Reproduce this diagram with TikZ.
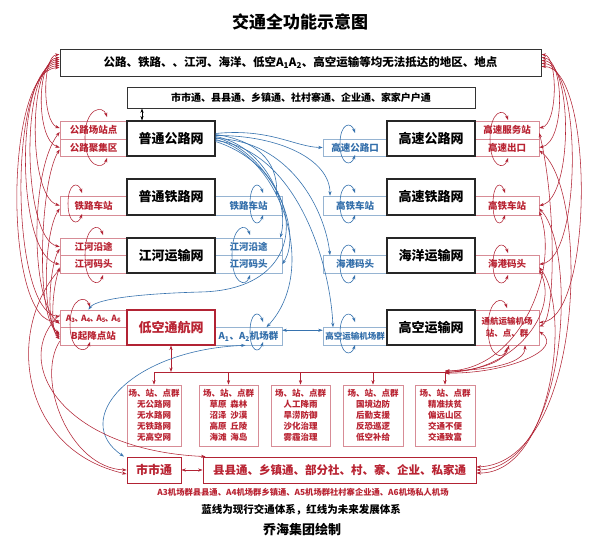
\documentclass[tikz,border=0pt]{standalone}
\usepackage{fontspec}
\setmainfont{Noto Sans CJK SC}
\usetikzlibrary{arrows.meta}
\definecolor{rline}{RGB}{178,35,52}
\definecolor{bline}{RGB}{55,115,175}
\definecolor{rtext}{RGB}{185,35,50}
\definecolor{btext}{RGB}{50,110,170}
\definecolor{rborder}{RGB}{215,140,150}
\definecolor{bborder}{RGB}{150,180,210}
\newcommand{\fsz}[1]{\fontsize{#1}{#1}\selectfont}
\newcommand{\myloop}[5]{\draw[#1,<->] (#3,{#4+10}) .. controls ({#3-4},{#4-2}) and (#2,#4) .. (#2,{(#4+#5)/2}) .. controls (#2,#5) and ({#3-4},{#5+2}) .. (#3,{#5-10});}
\tikzset{
  mainbox/.style={draw=black!85, line width=1.1pt, fill=white, inner sep=0pt, minimum width=88pt, minimum height=35pt, font=\bfseries\fsz{13}},
  rsub/.style={draw=rborder, line width=0.6pt, inner sep=0pt, text=rtext, font=\bfseries\fsz{9.5}},
  bsub/.style={draw=bborder, line width=0.6pt, inner sep=0pt, text=btext, font=\bfseries\fsz{9.5}},
  botbox/.style={draw=rborder, line width=0.7pt, inner sep=0pt, text=rtext, align=center, minimum height=61pt, font=\bfseries\fontsize{8.5}{11}\selectfont},
  rl/.style={draw=rline, line width=0.55pt},
  bl/.style={draw=bline, line width=0.6pt}
}
\begin{document}
\begin{tikzpicture}[x=1pt,y=-1pt,>={Stealth[length=4.5pt,width=3.2pt]}]
\useasboundingbox[fill=white] (0,0) rectangle (600,550);

% title and top boxes
\node[font=\bfseries\fsz{17}] (title) at (300,22) {交通全功能示意图};
\node[draw=black!80, line width=1pt, minimum width=481pt, minimum height=27pt, inner sep=0pt, font=\bfseries\fsz{11.5}] (topbox) at (300.5,62.5) {公路、铁路、、江河、海洋、低空A\textsubscript{1}A\textsubscript{2}、高空运输等均无法抵达的地区、地点};
\node[draw=black!80, line width=0.9pt, minimum width=348pt, minimum height=21pt, inner sep=0pt, font=\bfseries\fsz{10}] (cityline) at (301,97.5) {市市通、县县通、乡镇通、社村寨通、企业通、家家户户通};

% left red sub boxes
\node[rsub, minimum width=67pt, minimum height=18pt] (la1) at (93.5,130) {公路场站点};
\node[rsub, minimum width=67pt, minimum height=17pt] (la2) at (93.5,147.5) {公路聚集区};
\node[rsub, minimum width=67pt, minimum height=19pt] (lb) at (93.5,205.5) {铁路车站};
\node[rsub, minimum width=67pt, minimum height=17.5pt] (lc1) at (93.5,246.75) {江河沿途};
\node[rsub, minimum width=67pt, minimum height=17.5pt] (lc2) at (93.5,264.25) {江河码头};
\node[rsub, minimum width=67pt, minimum height=17.5pt, font=\bfseries\fsz{8.5}] (ld1) at (93.5,318.75) {A\textsubscript{3}\kern-1pt、\kern-2pt A\textsubscript{4}\kern-1pt、\kern-2pt A\textsubscript{5}\kern-1pt、\kern-2pt A\textsubscript{6}};
\node[rsub, minimum width=67pt, minimum height=17.5pt] (ld2) at (93.5,336.25) {B起降点站};

% middle blue sub boxes
\node[bsub, minimum width=67pt, minimum height=19pt] (mb) at (248.5,205.5) {铁路车站};
\node[bsub, minimum width=67pt, minimum height=17.5pt] (mc1) at (248.5,246.75) {江河沿途};
\node[bsub, minimum width=67pt, minimum height=17.5pt] (mc2) at (248.5,264.25) {江河码头};
\node[bsub, minimum width=67pt, minimum height=17.5pt] (md) at (248.5,336.25) {A\textsubscript{1}、A\textsubscript{2}机场群};
\node[bsub, minimum width=64pt, minimum height=17pt] (ha) at (355,147.5) {高速公路口};
\node[bsub, minimum width=64pt, minimum height=19pt] (hb) at (355,205.5) {高铁车站};
\node[bsub, minimum width=64pt, minimum height=17.5pt] (hc) at (355,264.25) {海港码头};
\node[bsub, minimum width=64pt, minimum height=17.5pt, font=\bfseries\fsz{8.5}] (hd) at (355,336.25) {高空运输机场群};

% right red sub boxes
\node[rsub, minimum width=64pt, minimum height=18pt] (ra1) at (507,130) {高速服务站};
\node[rsub, minimum width=64pt, minimum height=17pt] (ra2) at (507,147.5) {高速出口};
\node[rsub, minimum width=64pt, minimum height=19pt] (rb) at (507,205.5) {高铁车站};
\node[rsub, minimum width=64pt, minimum height=17.5pt] (rc) at (507,264.25) {海港码头};
\node[rsub, minimum width=64pt, minimum height=35pt, align=center, font=\bfseries\fontsize{8.5}{12}\selectfont] (rd) at (507,327.5) {通航运输机场\\站、点、群};

% main boxes
\node[mainbox] (m1) at (171,138.5) {普通公路网};
\node[mainbox, minimum height=36pt] (m2) at (171,197) {普通铁路网};
\node[mainbox] (m3) at (171,255.5) {江河运输网};
\node[mainbox, draw=rline, text=rtext] (m4) at (171,327.5) {低空通航网};
\node[mainbox] (h1) at (431,138.5) {高速公路网};
\node[mainbox, minimum height=36pt] (h2) at (431,197) {高速铁路网};
\node[mainbox] (h3) at (431,255.5) {海洋运输网};
\node[mainbox] (h4) at (431,327.5) {高空运输网};

% bottom boxes
\node[botbox, minimum width=54pt] (b1) at (154,415.5) {场、站、点群\\无公路网\\无水路网\\无铁路网\\无高空网};
\node[botbox, minimum width=59pt] (b2) at (228.5,415.5) {场、站、点群\\草原\hspace{4pt}森林\\沼泽\hspace{4pt}沙漠\\高原\hspace{4pt}丘陵\\海滩\hspace{4pt}海岛};
\node[botbox, minimum width=59pt] (b3) at (300.5,415.5) {场、站、点群\\人工降雨\\旱涝防御\\沙化治理\\雾霾治理};
\node[botbox, minimum width=60pt] (b4) at (373,415.5) {场、站、点群\\国境边防\\后勤支援\\反恐巡逻\\低空补给};
\node[botbox, minimum width=60pt] (b5) at (445,415.5) {场、站、点群\\精准扶贫\\偏远山区\\交通不便\\交通致富};

\node[draw=rline, line width=0.9pt, minimum width=54pt, minimum height=26pt, inner sep=0pt, text=rtext, font=\bfseries\fsz{12}] (ss) at (154,470) {市市通};
\node[draw=rline, line width=0.9pt, minimum width=273pt, minimum height=26pt, inner sep=0pt, text=rtext, font=\bfseries\fsz{11.5}] (xx) at (339.5,470) {县县通、乡镇通、部分社、村、寨、企业、私家通};

\node[text=rtext, font=\bfseries\fsz{8.3}] (cap1) at (303,492) {A3机场群县县通、A4机场群乡镇通、A5机场群社村寨企业通、A6机场私人机场};
\node[font=\bfseries\fsz{10.5}] (cap2) at (301,510) {蓝线为现行交通体系，红线为未来发展体系};
\node[font=\bfseries\fsz{13}] (cap3) at (302,530) {乔海集团绘制};

% black small arrow
\draw[<->, black, line width=0.6pt] ([xshift=-159pt]cityline.south) -- ([xshift=-29pt]m1.north);

% distribution
\coordinate (dm) at (171,372);
\coordinate (dl) at (154,372);
\coordinate (dr) at (445,372);
\draw[rl,<->] (m4.south) -- (dm);
\draw[rl] (dl) -- (dr);
\foreach \b in {b1,b2,b3,b4,b5} \draw[rl,->] (\b.north |- dl) -- (\b.north);
\draw[rl,<->] (ss.east) -- (xx.west);

% blue fan
\draw[bl,->] ([yshift=5pt]m1.east) .. controls (270,128) and (295,147) .. (ha.west);
\draw[bl,->] ([yshift=4pt]m1.east) .. controls (255,140) and (278,160) .. ([xshift=28pt]mb.north);
\draw[bl,->] ([yshift=3pt]m1.east) .. controls (280,135) and (330,160) .. ([xshift=-25pt]hb.north);
\draw[bl,->] ([yshift=2pt]m1.east) .. controls (262,145) and (290,200) .. ([xshift=-2pt]mc1.north east);
\draw[bl,->] ([yshift=1pt]m1.east) .. controls (268,150) and (305,230) .. (mc2.east);
\draw[bl,->] ([yshift=0pt]m1.east) .. controls (290,140) and (325,210) .. ([xshift=-25pt]hc.north);
\draw[bl,->] ([yshift=-1pt]m1.east) .. controls (280,155) and (320,270) .. ([xshift=18pt]md.north);
\draw[bl,->] ([yshift=-2pt]m1.east) .. controls (295,150) and (330,260) .. ([xshift=-22pt]hd.north);
\draw[bl,->] ([yshift=-3pt]m1.east) .. controls (305,170) and (320,290) .. (200,292) .. controls (130,294) and (95,300) .. ([xshift=-5pt]ld1.north);
\draw[bl,<->] ([yshift=6pt]md.east) -- ([yshift=6pt]hd.west);
\draw[bl,<->] ([xshift=-3pt]md.south) .. controls (130,350) and (70,420) .. ([xshift=-30pt]ss.north);

% loops
\myloop{rl}{85}{107}{107}{168}
\myloop{rl}{68}{82}{183}{224}
\myloop{rl}{85}{103}{225}{285}
\myloop{rl}{70}{90}{297}{352}
\myloop{rl}{490}{508}{110}{168}
\myloop{rl}{493}{505}{183}{225}
\myloop{rl}{493}{508}{243}{285}
\myloop{rl}{488}{507}{298}{358}
\myloop{bl}{250}{263}{183}{225}
\myloop{bl}{232}{250}{225}{285}
\myloop{bl}{340}{355}{123}{165}
\myloop{bl}{340}{355}{183}{225}
\myloop{bl}{340}{355}{243}{285}
\myloop{bl}{250}{263}{312}{352}
\myloop{bl}{340}{355}{312}{355}

% left red fan from top box
\draw[rl,<->] ([yshift=8pt]topbox.west) .. controls (42,56) and (42,122) .. ([yshift=2pt]la1.west);
\draw[rl,<->] ([yshift=5pt]topbox.west) .. controls (36,60) and (36,140) .. (la2.west);
\draw[rl,<->] ([yshift=3pt]topbox.west) .. controls (28,62) and (28,196) .. (lb.west);
\draw[rl,<->] ([yshift=1pt]topbox.west) .. controls (20,64) and (22,238) .. (lc1.west);
\draw[rl,<->] ([yshift=-1pt]topbox.west) .. controls (14,66) and (16,256) .. (lc2.west);
\draw[rl,<->] ([yshift=-3pt]topbox.west) .. controls (8,68) and (10,310) .. ([yshift=2pt]ld1.west);
\draw[rl,<->] ([yshift=-5pt]topbox.west) .. controls (3,70) and (4,330) .. ([yshift=-2pt]ld1.west);
% left crossing curves
\draw[rl,<->] ([yshift=-2pt]la1.west) .. controls (30,170) and (30,300) .. ([yshift=-5pt]ld1.west);
\draw[rl,<->] ([yshift=-2pt]la2.west) .. controls (40,180) and (35,320) .. ([yshift=3pt]ld2.west);
\draw[rl,<->] ([yshift=-3pt]lb.west) .. controls (45,230) and (40,315) .. ([yshift=1pt]ld2.west);
\draw[rl,<->] ([yshift=-2pt]lc1.west) .. controls (50,265) and (45,325) .. ([yshift=-1pt]ld2.west);
\draw[rl,<->] ([yshift=-3pt]lc2.west) .. controls (52,290) and (50,330) .. ([yshift=-3pt]ld2.west);
% left to bottom
\draw[rl,->] ([yshift=-5pt]ld2.west) .. controls (35,380) and (70,468) .. (ss.west);
\draw[rl,->] ([yshift=-5pt]lc2.west) .. controls (5,330) and (20,450) .. ([yshift=-4pt]ss.west);
\draw[rl,->] ([yshift=4pt]ld1.west) .. controls (10,360) and (60,450) .. ([xshift=3pt]xx.north west);

% right red fan from top box
\draw[rl,<->] ([yshift=8pt]topbox.east) .. controls (558,56) and (558,124) .. ([yshift=2pt]ra1.east);
\draw[rl,<->] ([yshift=5pt]topbox.east) .. controls (565,60) and (565,142) .. (ra2.east);
\draw[rl,<->] ([yshift=2pt]topbox.east) .. controls (573,62) and (573,198) .. (rb.east);
\draw[rl,<->] ([yshift=-1pt]topbox.east) .. controls (582,64) and (582,258) .. (rc.east);
\draw[rl,<->] ([yshift=-4pt]topbox.east) .. controls (594,66) and (594,318) .. ([yshift=5pt]rd.east);
% right crossing curves
\draw[rl,<->] ([yshift=-3pt]ra1.east) .. controls (556,200) and (556,320) .. ([yshift=1pt]rd.east);
\draw[rl,<->] ([yshift=-3pt]ra2.east) .. controls (590,190) and (585,462) .. ([yshift=3pt]xx.east);
\draw[rl,<->] ([yshift=-3pt]rb.east) .. controls (578,250) and (568,468) .. (xx.east);
\draw[rl,<->] ([yshift=-3pt]rc.east) .. controls (572,310) and (552,474) .. ([yshift=-3pt]xx.east);
\draw[rl,<->] ([yshift=-6pt]rb.east) .. controls (560,270) and (520,370) .. ([yshift=1pt]dr);
\draw[rl,<->] ([yshift=-6pt]rc.east) .. controls (560,310) and (515,372) .. (dr);
\draw[rl,<->] ([yshift=-4pt]rd.east) .. controls (565,350) and (505,374) .. ([yshift=-1pt]dr);
\draw[rl,<->] ([yshift=-1pt]dr) .. controls (490,368) and (505,360) .. ([xshift=2pt]rd.south);
\draw[rl,<->] ([yshift=1pt]dr) .. controls (495,370) and (525,362) .. ([xshift=18pt]rd.south);
\end{tikzpicture}
\end{document}
